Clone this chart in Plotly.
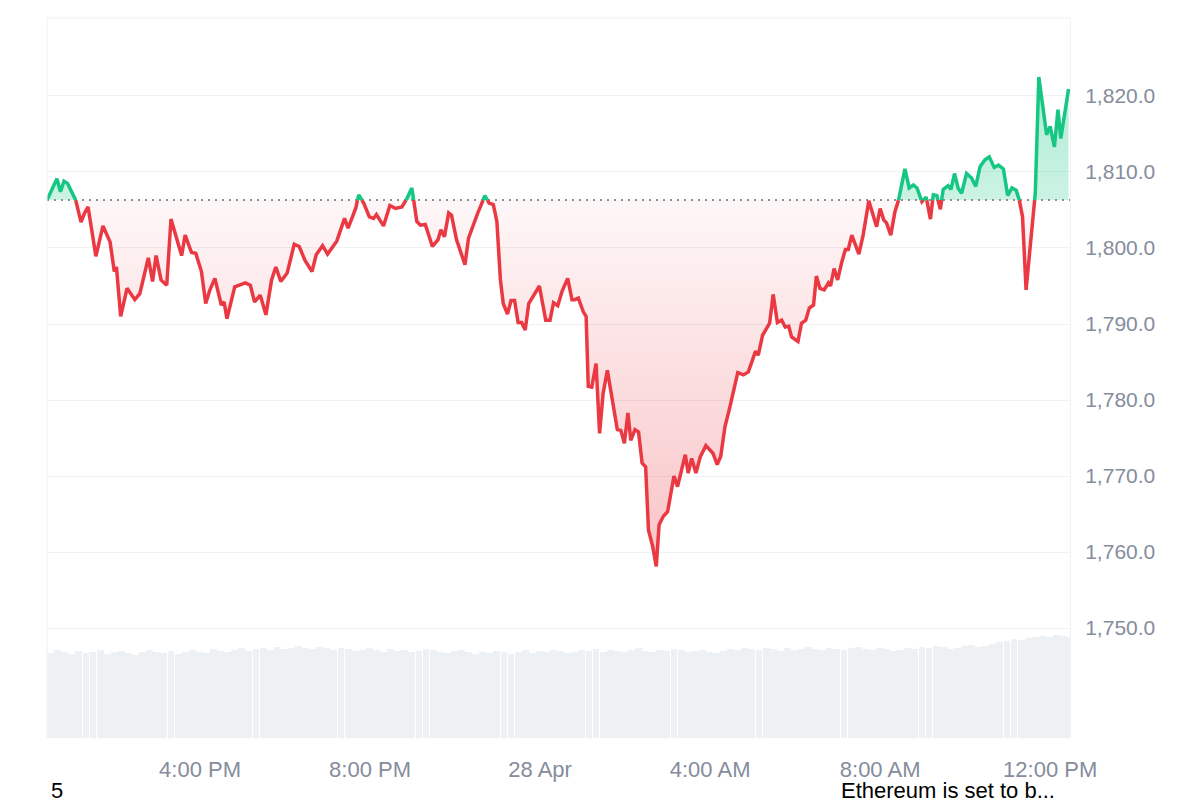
import datetime as dt
import plotly.graph_objects as go

# ---------------- data ----------------
start_time = dt.datetime(2025, 4, 27, 12, 24)

minutes = [0, 14, 19, 24, 29, 40, 48, 53, 58, 69, 79, 89, 95, 98, 104, 113, 124, 131, 143, 149,
           154, 161, 169, 175, 183, 190, 195, 204, 210, 218, 224, 230, 237, 246, 250, 254, 265, 272, 280, 287,
           293, 301, 309, 317, 323, 330, 339, 349, 356, 364, 374, 380, 389, 396, 409, 420, 425, 432, 436, 440,
           447, 455, 461, 465, 475, 484, 492, 501, 508, 515, 522, 527, 534, 544, 552, 556, 561, 567, 571, 578,
           583, 590, 595, 602, 608, 613, 618, 624, 630, 635, 640, 644, 650, 655, 660, 665, 670, 675, 680, 688,
           695, 704, 710, 715, 721, 727, 735, 741, 745, 750, 757, 761, 764, 769, 775, 780, 785, 791, 797, 805,
           810, 815, 820, 824, 830, 835, 840, 845, 849, 855, 860, 864, 870, 876, 885, 890, 901, 905, 910, 916,
           922, 930, 940, 946, 951, 957, 964, 970, 975, 983, 990, 1000, 1004, 1010, 1020, 1025, 1031, 1037, 1042, 1047,
           1051, 1060, 1065, 1071, 1076, 1082, 1086, 1091, 1097, 1103, 1106, 1111, 1116, 1122, 1127, 1131, 1136, 1146, 1152, 1160,
           1165, 1171, 1176, 1181, 1185, 1191, 1197, 1202, 1211, 1217, 1223, 1228, 1235, 1241, 1247, 1251, 1256, 1261, 1265, 1272,
           1276, 1281, 1286, 1291, 1298, 1305, 1311, 1317, 1324, 1330, 1337, 1343, 1350, 1356, 1362, 1368, 1372, 1377, 1382, 1388,
           1395, 1400, 1406, 1411, 1416, 1422, 1427, 1431, 1442]

prices = [1806.3, 1809.1, 1807.4, 1808.8, 1808.5, 1806.5, 1803.4, 1804.6, 1805.4, 1798.9, 1802.9, 1800.8, 1796.9, 1797.5, 1791.0, 1794.7, 1793.2, 1794.0, 1798.7, 1795.6,
          1799.0, 1795.8, 1795.1, 1803.8, 1801.1, 1799.0, 1801.7, 1799.4, 1799.3, 1796.9, 1792.7, 1794.5, 1796.0, 1792.5, 1792.9, 1790.7, 1794.9, 1795.1, 1795.4, 1795.1,
          1792.9, 1793.8, 1791.2, 1795.8, 1797.5, 1795.6, 1796.7, 1800.5, 1800.2, 1798.4, 1796.9, 1799.1, 1800.3, 1799.2, 1800.9, 1803.9, 1802.6, 1804.3, 1805.3, 1807.0,
          1805.9, 1804.1, 1803.9, 1804.4, 1802.9, 1805.6, 1805.2, 1805.4, 1806.5, 1807.9, 1803.5, 1803.0, 1803.1, 1800.2, 1801.1, 1802.4, 1801.5, 1804.6, 1804.3, 1801.1,
          1799.6, 1797.8, 1801.3, 1803.2, 1804.6, 1805.7, 1806.9, 1805.9, 1805.7, 1803.5, 1795.8, 1792.7, 1791.3, 1793.1, 1793.1, 1790.2, 1790.2, 1789.2, 1792.7, 1794.0,
          1795.0, 1790.5, 1790.5, 1792.8, 1792.4, 1794.3, 1796.0, 1793.2, 1793.2, 1793.4, 1791.6, 1791.0, 1781.8, 1781.7, 1784.8, 1775.6, 1780.9, 1783.9, 1780.4, 1776.1,
          1776.0, 1774.3, 1778.3, 1774.7, 1776.1, 1775.8, 1771.7, 1771.2, 1762.9, 1760.7, 1758.1, 1763.6, 1764.7, 1765.3, 1770.0, 1768.6, 1772.8, 1770.4, 1772.3, 1770.4,
          1772.5, 1774.0, 1773.0, 1771.5, 1772.6, 1776.5, 1779.1, 1781.8, 1783.6, 1783.3, 1783.7, 1786.4, 1785.9, 1788.5, 1790.1, 1793.9, 1790.2, 1790.5, 1789.6, 1789.7,
          1788.3, 1787.7, 1790.1, 1790.5, 1792.1, 1792.5, 1796.3, 1794.7, 1794.5, 1795.4, 1795.0, 1797.3, 1795.8, 1798.2, 1799.8, 1799.8, 1801.7, 1799.2, 1801.7, 1806.2,
          1804.8, 1802.8, 1805.2, 1803.7, 1803.3, 1801.7, 1804.8, 1806.3, 1810.4, 1807.9, 1808.3, 1807.9, 1806.1, 1806.7, 1803.8, 1807.0, 1806.9, 1805.1, 1807.7, 1808.2,
          1807.7, 1809.8, 1807.9, 1807.2, 1809.8, 1809.2, 1808.1, 1810.7, 1811.6, 1812.0, 1810.6, 1810.9, 1810.4, 1806.9, 1807.9, 1807.6, 1806.5, 1804.1, 1794.5, 1800.2,
          1807.2, 1822.5, 1818.2, 1814.9, 1816.0, 1813.3, 1818.2, 1814.4, 1820.9]

volume_step_min = 10
volumes = [85, 88, 86, 84, 87, 85, 86, 88, 84, 86,
           87, 85, 83, 86, 88, 86, 85, 87, 84, 86,
           88, 86, 85, 89, 87, 86, 88, 90, 87, 89,
           90, 88, 91, 89, 90, 92, 90, 89, 91, 90,
           88, 90, 89, 87, 88, 90, 88, 86, 89, 87,
           88, 86, 87, 89, 88, 86, 85, 87, 88, 86,
           84, 86, 85, 87, 86, 84, 86, 88, 85, 87,
           86, 88, 87, 85, 86, 88, 87, 89, 86, 88,
           87, 86, 88, 90, 87, 86, 88, 87, 89, 88,
           86, 87, 88, 86, 85, 87, 89, 88, 90, 89,
           88, 90, 89, 87, 90, 88, 89, 91, 89, 88,
           90, 89, 88, 90, 91, 89, 88, 90, 89, 87,
           88, 90, 89, 91, 90, 92, 91, 89, 90, 92,
           93, 91, 92, 94, 96, 97, 99, 98, 100, 101,
           102, 101, 103, 102, 101]

y_tick_values = [1750, 1760, 1770, 1780, 1790, 1800, 1810, 1820]
x_tick_times = [dt.datetime(2025, 4, 27, 16, 0), dt.datetime(2025, 4, 27, 20, 0), dt.datetime(2025, 4, 28, 0, 0),
                dt.datetime(2025, 4, 28, 4, 0), dt.datetime(2025, 4, 28, 8, 0), dt.datetime(2025, 4, 28, 12, 0)]
x_tick_labels = ["4:00 PM", "8:00 PM", "28 Apr", "4:00 AM", "8:00 AM", "12:00 PM"]

bottom_left_text = "5"
bottom_right_text = "Ethereum is set to b..."

# ---------------- styling ----------------
GREEN = "#16c784"
RED = "#ea3943"
GRID = "#eff1f4"
TICK_GREY = "#858c9c"
FONT = "Liberation Sans, Arial, sans-serif"

# page body has an 8px margin: plot area in the screenshot is x 47..1070, y 18..738
L, T = 39, 10
PW, PH = 1023, 720
W, H = 1200, 800

base = prices[0]

# insert baseline crossings
xs, ys = [], []
for i in range(len(prices)):
    if i > 0 and (prices[i - 1] - base) * (prices[i] - base) < 0:
        t = (base - prices[i - 1]) / (prices[i] - prices[i - 1])
        xm = minutes[i - 1] + t * (minutes[i] - minutes[i - 1])
        xs.append(xm)
        ys.append(base)
    xs.append(minutes[i])
    ys.append(prices[i])

times = [start_time + dt.timedelta(minutes=m) for m in xs]
y_up = [max(v, base) for v in ys]
y_dn = [min(v, base) for v in ys]
g_line = [v if v >= base else None for v in ys]
r_line = [v if v <= base else None for v in ys]

vol_times = [start_time + dt.timedelta(minutes=volume_step_min * i + volume_step_min / 2) for i in range(len(volumes))]

fig = go.Figure()

fig.add_trace(go.Bar(x=vol_times, y=volumes, yaxis="y2", marker=dict(color="#eef1f4", line=dict(width=0)),
                     width=volume_step_min * 60 * 1000 * 0.97, hoverinfo="skip", showlegend=False))

fig.add_trace(go.Scatter(x=times, y=[base] * len(times), mode="lines", line=dict(width=0), showlegend=False, hoverinfo="skip"))
fig.add_trace(go.Scatter(x=times, y=y_up, mode="lines", line=dict(width=0), fill="tonexty",
                         fillgradient=dict(type="vertical", colorscale=[[0, "rgba(22,199,132,0.22)"], [1, "rgba(22,199,132,0.34)"]]),
                         showlegend=False, hoverinfo="skip"))
fig.add_trace(go.Scatter(x=times, y=[base] * len(times), mode="lines", line=dict(width=0), showlegend=False, hoverinfo="skip"))
fig.add_trace(go.Scatter(x=times, y=y_dn, mode="lines", line=dict(width=0), fill="tonexty",
                         fillgradient=dict(type="vertical", colorscale=[[0, "rgba(234,57,67,0.30)"], [1, "rgba(234,57,67,0.04)"]]),
                         showlegend=False, hoverinfo="skip"))

fig.add_trace(go.Scatter(x=[start_time, start_time + dt.timedelta(minutes=1444)], y=[base, base], mode="lines",
                         line=dict(color="#8a8f99", width=2, dash="2px,5px"), showlegend=False, hoverinfo="skip"))

fig.add_trace(go.Scatter(x=times, y=r_line, mode="lines", line=dict(color=RED, width=3.5), connectgaps=False,
                         showlegend=False, name="Price"))
fig.add_trace(go.Scatter(x=times, y=g_line, mode="lines", line=dict(color=GREEN, width=3.5), connectgaps=False,
                         showlegend=False, name="Price"))

fig.update_layout(
    width=W, height=H,
    margin=dict(l=L, r=W - L - PW, t=T, b=H - T - PH),
    paper_bgcolor="white", plot_bgcolor="white",
    font=dict(family=FONT, size=21, color=TICK_GREY),
    bargap=0,
    xaxis=dict(type="date", range=[start_time, start_time + dt.timedelta(minutes=1444)],
               tickvals=x_tick_times, ticktext=x_tick_labels, showgrid=False, zeroline=False,
               showline=False, ticks="", ticklabelstandoff=16,
               tickfont=dict(size=22, color=TICK_GREY, family=FONT)),
    yaxis=dict(side="right", range=[1735.53, 1830.26], tickvals=y_tick_values,
               ticktext=[f"{v:,.1f}" for v in y_tick_values],
               showgrid=True, gridcolor=GRID, gridwidth=1, zeroline=False,
               showline=True, linecolor=GRID, linewidth=1, ticks="", ticklabelstandoff=10,
               tickfont=dict(size=21, color=TICK_GREY, family=FONT)),
    yaxis2=dict(overlaying="y", range=[0, 720], visible=False, showgrid=False),
    shapes=[
        dict(type="line", xref="paper", yref="paper", x0=0, x1=1, y0=1, y1=1, line=dict(color=GRID, width=1)),
        dict(type="line", xref="paper", yref="paper", x0=0, x1=0, y0=0, y1=1, line=dict(color=GRID, width=1)),
    ],
    annotations=[
        dict(text=bottom_left_text, xref="paper", yref="paper", x=(49 - 47) / PW, y=-(790 - 738) / PH,
             xanchor="left", yanchor="middle", showarrow=False, font=dict(size=22, color="#000000", family=FONT)),
        dict(text=bottom_right_text, xref="paper", yref="paper", x=(839 - 47) / PW, y=-(790 - 738) / PH,
             xanchor="left", yanchor="middle", showarrow=False, font=dict(size=22, color="#000000", family=FONT)),
    ],
)

fig.write_html("out.html")
